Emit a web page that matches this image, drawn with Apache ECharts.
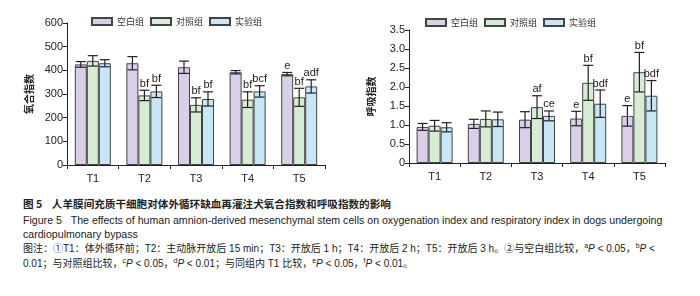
<!DOCTYPE html>
<html>
<head>
  <meta charset="utf-8">
  <script src="https://cdn.jsdelivr.net/npm/echarts@6/dist/echarts.min.js"></script>
  <style>
    body { margin: 0; background: #fff; }
    #wrap { position: relative; width: 700px; height: 296px; overflow: hidden; }
    #chart { position: absolute; left: 0; top: 0; width: 700px; height: 192px; }
    .cap {
      position: absolute; left: 23px; white-space: nowrap;
      font-family: 'Liberation Sans', 'Noto Sans CJK SC', sans-serif;
      font-size: 10.6px; line-height: 14px; color: #222;
    }
    .cap.t { font-family: 'Noto Sans CJK SC', sans-serif; font-weight: bold; font-size: 10.6px; }
    .cap.n { font-size: 10px; }
    .s { position: relative; top: -4px; font-size: 7px; }
  </style>
</head>
<body>
  <div id="wrap">
    <div id="chart"></div>
    <div class="cap t" style="top:197px">图 5&nbsp;&nbsp;&nbsp;&nbsp;人羊膜间充质干细胞对体外循环缺血再灌注犬氧合指数和呼吸指数的影响</div>
    <div class="cap" style="top:213px">Figure 5&nbsp;&nbsp;&nbsp;The effects of human amnion-derived mesenchymal stem cells on oxygenation index and respiratory index in dogs undergoing</div>
    <div class="cap" style="top:227px">cardiopulmonary bypass</div>
    <div class="cap n" style="top:242px">图注：①T1：体外循环前；T2：主动脉开放后 15 min；T3：开放后 1 h；T4：开放后 2 h；T5：开放后 3 h。②与空白组比较，<span class="s">a</span><i>P</i> &lt; 0.05，<span class="s">b</span><i>P</i> &lt;</div>
    <div class="cap n" style="top:257px">0.01；与对照组比较，<span class="s">c</span><i>P</i> &lt; 0.05，<span class="s">d</span><i>P</i> &lt; 0.01；与同组内 T1 比较，<span class="s">e</span><i>P</i> &lt; 0.05，<span class="s">f</span><i>P</i> &lt; 0.01。</div>
  </div>
  <script>
    const categories = ['T1', 'T2', 'T3', 'T4', 'T5']
    const groups = ['空白组', '对照组', '实验组']

    // 氧合指数
    const oxyBlank = [425, 430, 413, 392, 384]
    const oxyBlankSd = [12, 28, 26, 7, 7]
    const oxyControl = [440, 294, 254, 276, 286]
    const oxyControlSd = [22, 22, 30, 33, 38]
    const oxyExp = [430, 311, 279, 311, 332]
    const oxyExpSd = [15, 26, 30, 24, 28]
    const oxyBlankMark = ['', '', '', '', 'e']
    const oxyControlMark = ['', 'bf', 'bf', 'bf', 'bf']
    const oxyExpMark = ['', 'bf', 'bf', 'bcf', 'adf']

    // 呼吸指数
    const respBlank = [0.95, 1.03, 1.14, 1.17, 1.24]
    const respBlankSd = [0.09, 0.12, 0.21, 0.19, 0.27]
    const respControl = [0.98, 1.16, 1.47, 2.11, 2.39]
    const respControlSd = [0.14, 0.21, 0.30, 0.46, 0.52]
    const respExp = [0.94, 1.15, 1.24, 1.56, 1.77]
    const respExpSd = [0.12, 0.19, 0.13, 0.36, 0.40]
    const respBlankMark = ['', '', '', 'e', 'e']
    const respControlMark = ['', '', 'af', 'bf', 'bf']
    const respExpMark = ['', '', 'ce', 'bdf', 'bdf']

    const colors = ['#dacfe9', '#d7ecd4', '#c8e6f6']
    const barWidth = 12
    const font = 'Liberation Sans'

    function barSeries(name, idx, data, color) {
      return {
        name: name,
        type: 'bar',
        xAxisIndex: idx,
        yAxisIndex: idx,
        barWidth: barWidth,
        barGap: '0%',
        data: data,
        itemStyle: { color: color, borderColor: '#444', borderWidth: 1 },
        emphasis: { disabled: true }
      }
    }

    function errSeries(idx, g, means, sds, marks) {
      return {
        type: 'custom',
        xAxisIndex: idx,
        yAxisIndex: idx,
        z: 5,
        silent: true,
        data: means.map((m, i) => [i, m, sds[i]]),
        renderItem: function (params, api) {
          const i = api.value(0)
          const m = api.value(1)
          const s = api.value(2)
          const top = api.coord([i, m + s])
          const bot = api.coord([i, m - s])
          const x = top[0] + (g - 1) * barWidth
          const st = { stroke: '#222', lineWidth: 1.2 }
          const children = [
            { type: 'line', shape: { x1: x, y1: top[1], x2: x, y2: bot[1] }, style: st },
            { type: 'line', shape: { x1: x - 5, y1: top[1], x2: x + 5, y2: top[1] }, style: st },
            { type: 'line', shape: { x1: x - 5, y1: bot[1], x2: x + 5, y2: bot[1] }, style: st }
          ]
          const mark = marks[params.dataIndex]
          if (mark) {
            children.push({
              type: 'text',
              style: {
                x: x, y: top[1] - 1, text: mark,
                fill: '#222', font: '11px ' + font,
                align: 'center', verticalAlign: 'bottom'
              }
            })
          }
          return { type: 'group', children: children }
        }
      }
    }

    const axisLineStyle = { show: true, lineStyle: { color: '#222', width: 1 } }
    const axisText = { color: '#222', fontSize: 11, fontFamily: font }

    function xAxis(idx) {
      return {
        type: 'category',
        gridIndex: idx,
        data: categories,
        axisLine: axisLineStyle,
        axisTick: { show: true, length: 4, lineStyle: { color: '#222' } },
        axisLabel: Object.assign({ margin: 8 }, axisText)
      }
    }

    function yAxis(idx, name, max, interval, fmt) {
      return {
        type: 'value',
        gridIndex: idx,
        min: 0,
        max: max,
        interval: interval,
        name: name,
        nameLocation: 'middle',
        nameGap: 33,
        nameTextStyle: { color: '#222', fontSize: 10, fontWeight: 'bold', fontFamily: 'Noto Sans CJK SC' },
        splitLine: { show: false },
        axisLine: axisLineStyle,
        axisTick: { show: true, length: 4, lineStyle: { color: '#222' } },
        axisLabel: Object.assign({ margin: 4, formatter: fmt }, axisText)
      }
    }

    const legendBase = {
      itemWidth: 20,
      itemHeight: 7,
      itemGap: 6,
      icon: 'rect',
      data: groups,
      textStyle: { color: '#333', fontSize: 9, fontFamily: 'Noto Sans CJK SC' }
    }

    const option = {
      animation: false,
      color: colors,
      legend: [
        Object.assign({ left: 86, top: 12 }, legendBase),
        Object.assign({ left: 420, top: 13 }, legendBase)
      ],
      grid: [
        { left: 67, top: 23, width: 258, height: 142 },
        { left: 409, top: 30, width: 256, height: 133 }
      ],
      xAxis: [xAxis(0), xAxis(1)],
      yAxis: [
        yAxis(0, '氧合指数', 600, 100, v => String(v)),
        yAxis(1, '呼吸指数', 3.5, 0.5, v => (v === 0 ? '0' : v.toFixed(1)))
      ],
      series: [
        barSeries(groups[0], 0, oxyBlank, colors[0]),
        barSeries(groups[1], 0, oxyControl, colors[1]),
        barSeries(groups[2], 0, oxyExp, colors[2]),
        barSeries(groups[0], 1, respBlank, colors[0]),
        barSeries(groups[1], 1, respControl, colors[1]),
        barSeries(groups[2], 1, respExp, colors[2]),
        errSeries(0, 0, oxyBlank, oxyBlankSd, oxyBlankMark),
        errSeries(0, 1, oxyControl, oxyControlSd, oxyControlMark),
        errSeries(0, 2, oxyExp, oxyExpSd, oxyExpMark),
        errSeries(1, 0, respBlank, respBlankSd, respBlankMark),
        errSeries(1, 1, respControl, respControlSd, respControlMark),
        errSeries(1, 2, respExp, respExpSd, respExpMark)
      ]
    }

    const chart = echarts.init(document.getElementById('chart'))
    chart.setOption(option)
  </script>
</body>
</html>
